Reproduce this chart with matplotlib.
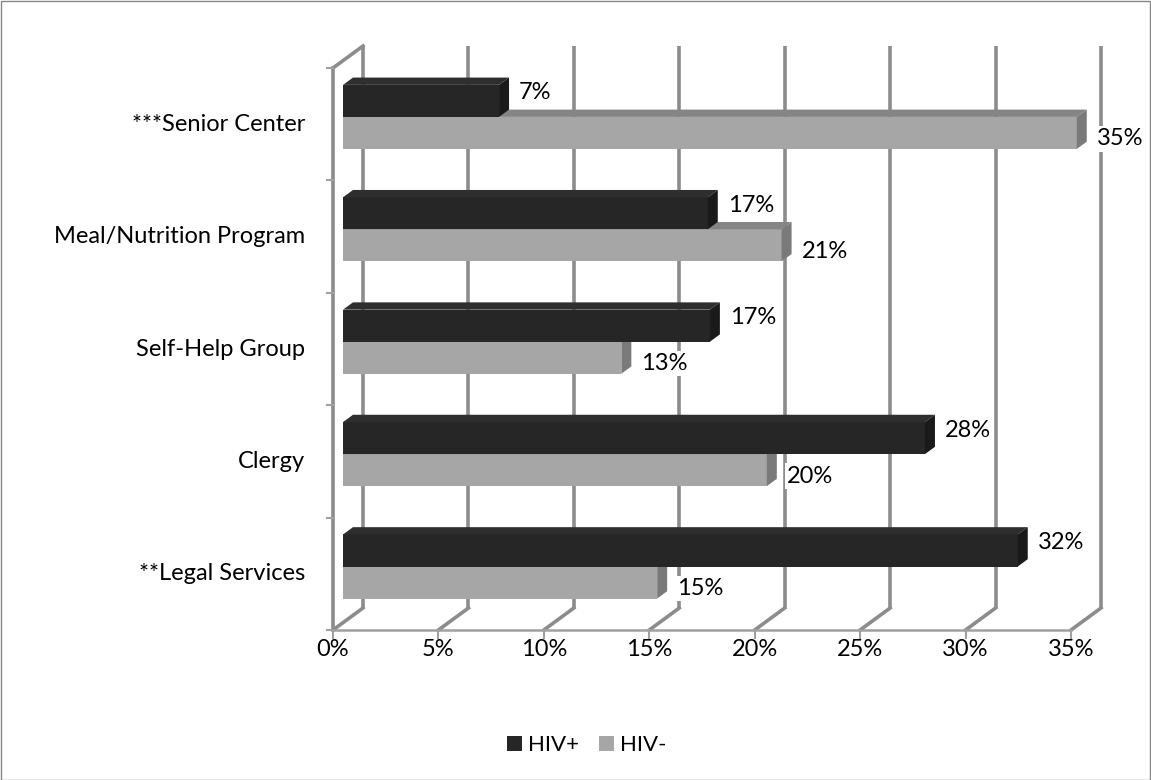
import matplotlib
matplotlib.use("Agg")
import matplotlib.pyplot as plt
from matplotlib.patches import Polygon, Rectangle, Patch

plt.rcParams['font.family'] = ['Lato', 'DejaVu Sans']

categories = ["**Legal Services", "Clergy", "Self-Help Group",
              "Meal/Nutrition Program", "***Senior Center"]
hiv_pos = [32.0, 27.6, 17.4, 17.3, 7.4]
hiv_neg = [14.9, 20.1, 13.2, 20.8, 34.8]
x_ticks = [0, 5, 10, 15, 20, 25, 30, 35]
x_tick_labels = [f"{t}%" for t in x_ticks]
series_names = ["HIV+", "HIV-"]

W, H, DPI = 1151, 780, 100
FS = 17
fig = plt.figure(figsize=(W / DPI, H / DPI), dpi=DPI)
ax = fig.add_axes([333 / W, 1 - 630 / H, 738 / W, 562 / H])
ax.set_xlim(0, 35)
ax.set_ylim(-0.5, len(categories) - 0.5)
ax.axis('off')

# data units per pixel, used for the fake 3D depth
ux = 35 / ax.bbox.width
uy = len(categories) / ax.bbox.height
y_lo, y_hi = -0.5, len(categories) - 0.5

wall = '#8c8c8c'
wall_lw = 2.6
back_dx, back_dy = 30 * ux, 22 * uy

# back wall gridlines + floor diagonals
for t in x_ticks:
    ax.plot([t + back_dx, t + back_dx], [y_lo + back_dy, y_hi + back_dy],
            color=wall, lw=wall_lw, solid_capstyle='butt', clip_on=False, zorder=1)
    ax.plot([t, t + back_dx], [y_lo, y_lo + back_dy],
            color=wall, lw=wall_lw, clip_on=False, zorder=1)
    ax.plot([t, t], [y_lo, y_lo - 8 * uy], color='#a0a0a0', lw=1.5, clip_on=False)

# left wall
ax.plot([0, 0], [y_lo, y_hi], color=wall, lw=wall_lw, clip_on=False, zorder=1)
ax.plot([0, back_dx], [y_hi, y_hi + back_dy], color=wall, lw=wall_lw,
        clip_on=False, zorder=1)
for k in range(len(categories) + 1):
    yk = y_lo + k
    ax.plot([0, -6 * ux], [yk, yk], color='#a0a0a0', lw=1.5, clip_on=False)

# front axis line
ax.plot([0, 35], [y_lo, y_lo], color='#a0a0a0', lw=1.8, clip_on=False, zorder=1)

# bars
bh = 0.285
bx, by = 10 * ux, 7.3 * uy
dx, dy = 10 * ux, 7.3 * uy


def draw_bar(v, y0, front, top, side):
    x0, yb = bx, y0 + by
    ax.add_patch(Rectangle((x0, yb), v, bh, facecolor=front, edgecolor='none',
                           zorder=3, clip_on=False))
    ax.add_patch(Polygon([(x0, yb + bh), (x0 + v, yb + bh),
                          (x0 + v + dx, yb + bh + dy), (x0 + dx, yb + bh + dy)],
                         closed=True, facecolor=top, edgecolor='none',
                         zorder=3, clip_on=False))
    ax.add_patch(Polygon([(x0 + v, yb), (x0 + v + dx, yb + dy),
                          (x0 + v + dx, yb + bh + dy), (x0 + v, yb + bh)],
                         closed=True, facecolor=side, edgecolor='none',
                         zorder=3, clip_on=False))


def value_label(v, y0, shift):
    ax.text(bx + v + dx + 10 * ux, y0 + by + bh / 2 + shift * uy, f"{round(v)}%",
            ha='left', va='center', fontsize=FS, color='black', zorder=5,
            bbox=dict(facecolor='white', edgecolor='none', pad=1.5))


for i, (p, n) in enumerate(zip(hiv_pos, hiv_neg)):
    draw_bar(n, i - bh, '#a6a6a6', '#858585', '#7a7a7a')
    draw_bar(p, i, '#262626', '#2e2e2e', '#1a1a1a')
    value_label(p, i, 8)
    value_label(n, i - bh, -6)

# category labels
for i, c in enumerate(categories):
    ax.text(-28 * ux, i, c, ha='right', va='center', fontsize=FS, clip_on=False)

# x tick labels
for t, lab in zip(x_ticks, x_tick_labels):
    ax.text(t, y_lo - 19 * uy, lab, ha='center', va='center', fontsize=FS)

handles = [Patch(facecolor='#262626', edgecolor='none'),
           Patch(facecolor='#a6a6a6', edgecolor='none')]
fig.legend(handles, series_names, loc='center', bbox_to_anchor=(587 / W, 1 - 745 / H),
           ncol=2, frameon=False, fontsize=16, handlelength=0.68, handleheight=0.68,
           handletextpad=0.27, columnspacing=0.9)

fig.patches.append(Rectangle((0.5 / W, 0.5 / H), 1 - 1.5 / W, 1 - 1.5 / H,
                             transform=fig.transFigure, fill=False,
                             edgecolor='#868686', lw=1))

fig.savefig('out.png', dpi=DPI)
